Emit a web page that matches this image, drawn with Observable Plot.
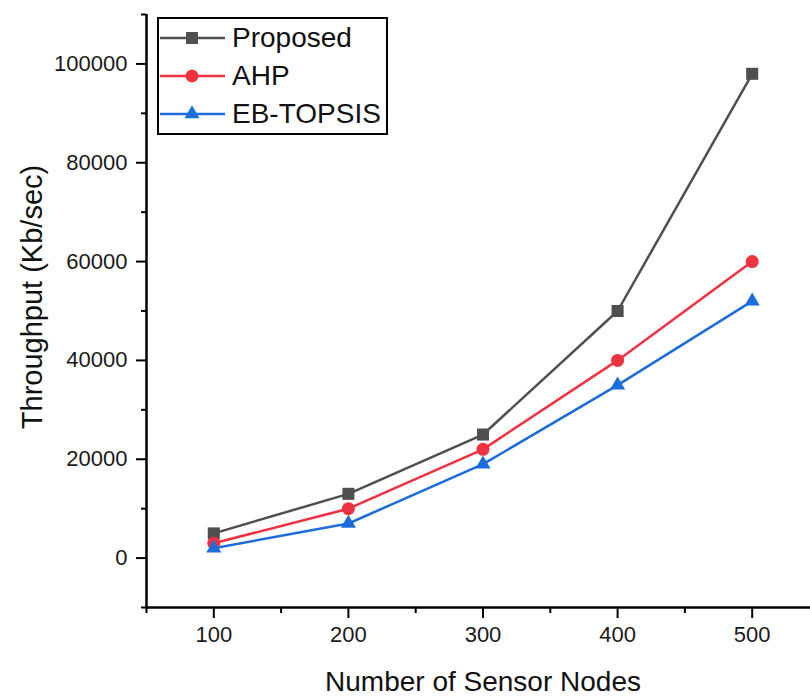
<!DOCTYPE html>
<html>
<head>
<meta charset="utf-8">
<script src="https://cdn.jsdelivr.net/npm/d3@7"></script>
<script src="https://cdn.jsdelivr.net/npm/@observablehq/plot@0.6"></script>
<style>
  html, body { margin: 0; padding: 0; background: #fff; overflow: hidden; }
  #wrap { position: relative; width: 810px; height: 697px; font-family: "Liberation Sans", Arial, sans-serif; }
  #legend { position: absolute; left: 157px; top: 17px; width: 227px; height: 114px; border: 2px solid #000; background: #fff; box-sizing: content-box; }
  .row { position: absolute; left: 0; height: 36px; display: flex; align-items: center; }
  .row span { font-size: 28px; color: #111; margin-left: 5px; line-height: 1; }
  #chart g[aria-label$="tick"] { stroke-width: 2px; stroke: #000; }
</style>
</head>
<body>
<div id="wrap"><div id="chart"></div><div id="legend"></div></div>
<script>
const nodes = [100, 200, 300, 400, 500];
const proposed = [5000, 13000, 25000, 50000, 98000];
const ahp = [3000, 10000, 22000, 40000, 60000];
const ebTopsis = [2000, 7000, 19000, 35000, 52000];
const seriesNames = ["Proposed", "AHP", "EB-TOPSIS"];
const seriesColors = ["#4f4f4f", "#ee3340", "#1c6cdc"];
const seriesSymbols = ["square", "circle", "triangle"];
const seriesR = [6.8, 6.5, 5.6];
const xMajor = [100, 200, 300, 400, 500];
const xMinor = [50, 150, 250, 350, 450];
const yMajor = [0, 20000, 40000, 60000, 80000, 100000];
const yMinor = [-10000, 10000, 30000, 50000, 70000, 90000, 110000];

const seriesValues = [proposed, ahp, ebTopsis];
const data = [];
seriesNames.forEach((s, i) => nodes.forEach((n, j) => data.push({series: s, x: n, y: seriesValues[i][j]})));

const font = "Liberation Sans, Arial, sans-serif";
const marks = [];
seriesNames.forEach((s, i) => {
  const d = data.filter(e => e.series === s);
  marks.push(Plot.line(d, {x: "x", y: "y", stroke: seriesColors[i], strokeWidth: 2.5}));
});
seriesNames.forEach((s, i) => {
  const d = data.filter(e => e.series === s);
  marks.push(Plot.dot(d, {x: "x", y: "y", fill: seriesColors[i], stroke: "none", symbol: seriesSymbols[i], r: seriesR[i]}));
});

const chart = Plot.plot({
  width: 810,
  height: 697,
  marginLeft: 146,
  marginRight: -9,
  marginTop: 14,
  marginBottom: 90,
  style: {fontFamily: font, background: "#fff", color: "#000", overflow: "visible"},
  x: {domain: [50, 550]},
  y: {domain: [-10000, 110000]},
  marks: [
    Plot.axisX({ticks: xMajor, tickSize: 11, tickPadding: 8, fontSize: 22, strokeWidth: 2, tickFormat: d => String(d), label: null, fill: "#1a1a1a"}),
    Plot.axisX({ticks: xMinor, tickSize: 6, strokeWidth: 2, text: null, label: null}),
    Plot.axisY({ticks: yMajor, tickSize: 10, tickPadding: 9, fontSize: 22, strokeWidth: 2, tickFormat: d => String(d), label: null, fill: "#1a1a1a"}),
    Plot.axisY({ticks: yMinor, tickSize: 5, strokeWidth: 2, text: null, label: null}),
    Plot.ruleX([50], {strokeWidth: 2.5, stroke: "#000"}),
    Plot.ruleY([-10000], {strokeWidth: 2.5, stroke: "#000"}),
    Plot.text(["Number of Sensor Nodes"], {frameAnchor: "bottom", textAnchor: "middle", lineAnchor: "bottom", dy: 83, fontSize: 28, fill: "#111"}),
    Plot.text(["Throughput (Kb/sec)"], {frameAnchor: "left", textAnchor: "middle", lineAnchor: "middle", dx: -114, dy: -14, rotate: -90, fontSize: 29, fill: "#111"}),
    ...marks
  ]
});
document.getElementById("chart").appendChild(chart);

// legend
const legend = document.getElementById("legend");
seriesNames.forEach((s, i) => {
  const row = document.createElement("div");
  row.className = "row";
  row.style.top = (1 + i * 38) + "px";
  const svg = d3.create("svg").attr("width", 68).attr("height", 36);
  svg.append("line").attr("x1", 1).attr("x2", 66).attr("y1", 18).attr("y2", 18)
    .attr("stroke", seriesColors[i]).attr("stroke-width", 2.5);
  const sym = {square: d3.symbolSquare, circle: d3.symbolCircle, triangle: d3.symbolTriangle}[seriesSymbols[i]];
  svg.append("path").attr("d", d3.symbol(sym, Math.PI * seriesR[i] * seriesR[i])())
    .attr("transform", "translate(33,18)").attr("fill", seriesColors[i]);
  row.appendChild(svg.node());
  const t = document.createElement("span");
  t.textContent = s;
  row.appendChild(t);
  legend.appendChild(row);
});
</script>
</body>
</html>
